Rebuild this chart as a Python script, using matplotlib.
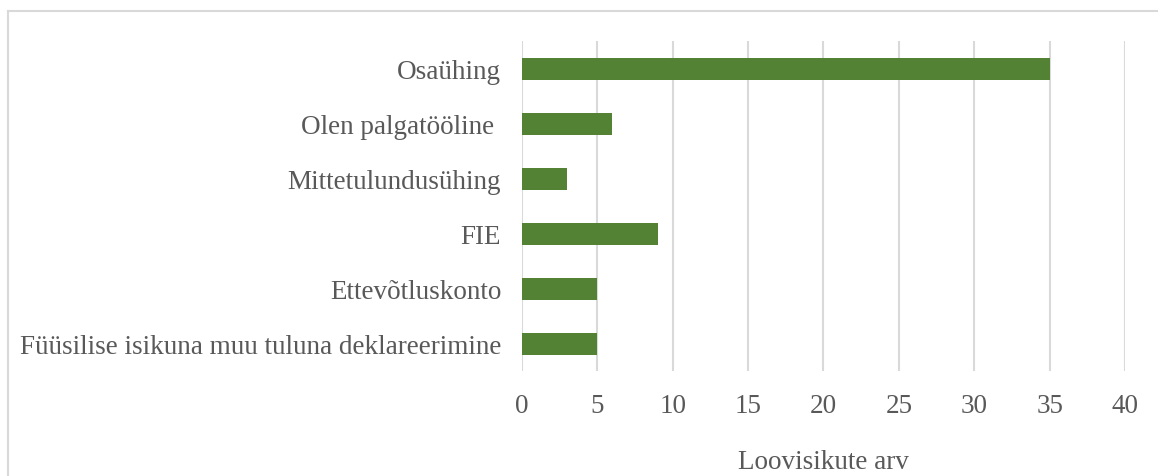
import matplotlib.pyplot as plt
from matplotlib.lines import Line2D

categories = ["Osaühing", "Olen palgatööline ", "Mittetulundusühing", "FIE",
              "Ettevõtluskonto", "Füüsilise isikuna muu tuluna deklareerimine"]
values = [35, 6, 3, 9, 5, 5]
xticks = [0, 5, 10, 15, 20, 25, 30, 35, 40]

text_color = "#595959"
grid_color = "#d9d9d9"

plt.rcParams["font.family"] = ["Liberation Serif", "DejaVu Serif"]

fig = plt.figure(figsize=(11.58, 4.77), dpi=100)
ax = fig.add_axes([522 / 1158, 1 - 372 / 477, (1125 - 522) / 1158, 330 / 477])

pos = list(range(len(categories)))[::-1]
ax.barh(pos, values, height=0.4, color="#548235", zorder=3)

ax.set_xlim(0, 40)
ax.set_ylim(-0.5, len(categories) - 0.5)
ax.set_xticks(xticks)
ax.set_yticks(pos)
ax.set_yticklabels(categories)
ax.grid(axis="x", color=grid_color, linewidth=1.5, zorder=0)
ax.tick_params(axis="both", length=0, labelsize=19.5, labelcolor=text_color)
ax.tick_params(axis="x", pad=16)
ax.tick_params(axis="y", pad=15)
for s in ax.spines.values():
    s.set_visible(False)

fig.text(823 / 1158, 1 - 463 / 477, "Loovisikute arv", ha="center", va="center",
         fontsize=19.5, color=text_color)

# outer chart frame (clipped at right and bottom)
fig.add_artist(Line2D([8 / 1158, 1], [1 - 12 / 477, 1 - 12 / 477], color=grid_color, linewidth=1.5))
fig.add_artist(Line2D([8 / 1158, 8 / 1158], [0, 1 - 12 / 477], color=grid_color, linewidth=1.5))

fig.savefig("out.png", dpi=100)
